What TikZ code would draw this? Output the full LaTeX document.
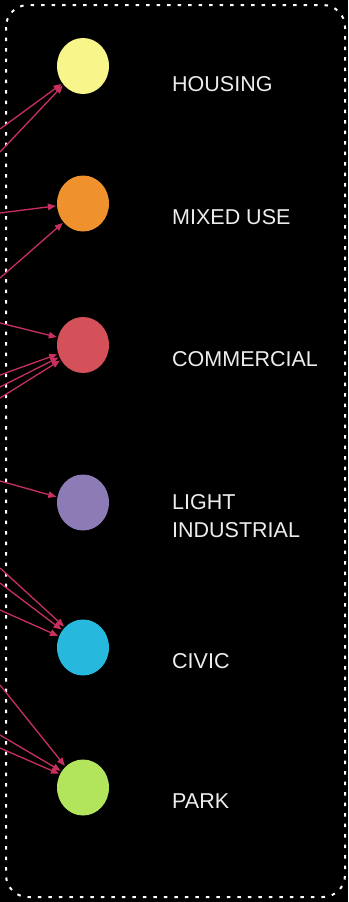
\documentclass[tikz,border=0pt]{standalone}
\usepackage{fontspec}
\setmainfont{Liberation Sans}
\usetikzlibrary{shapes.geometric,arrows.meta}
\definecolor{cyellow}{HTML}{F8F68A}
\definecolor{corange}{HTML}{EF922E}
\definecolor{cred}{HTML}{D4515A}
\definecolor{cpurple}{HTML}{8C7BB5}
\definecolor{ccyan}{HTML}{27B8DE}
\definecolor{cgreen}{HTML}{B2E45C}
\definecolor{arrowred}{HTML}{C8305E}
\definecolor{labelgray}{HTML}{EDEDED}
\tikzset{
  zone/.style={ellipse, minimum width=52pt, minimum height=56pt, inner sep=0pt, draw=none},
  zlabel/.style={anchor=base west, inner sep=0pt, text=labelgray, font=\fontsize{21.5}{28}\selectfont, align=left},
  flow/.style={draw=arrowred, line width=1.3pt, -{Triangle[length=8pt,width=6.5pt]}, shorten >=1pt},
  frame/.style={draw=white, line width=2pt, dash pattern=on 3.5pt off 7pt, rounded corners=22pt}
}
\begin{document}
\begin{tikzpicture}[x=1pt,y=-1pt]
\fill[black] (0,0) rectangle (348,902);
\useasboundingbox (0,0) rectangle (348,902);
\draw[frame] (6,5) rectangle (345,897);

\node[zone, fill=cyellow] (housing) at (83,66) {};
\node[zone, fill=corange] (mixed) at (83,203.5) {};
\node[zone, fill=cred] (commercial) at (83,345) {};
\node[zone, fill=cpurple] (industrial) at (83,502.5) {};
\node[zone, fill=ccyan] (civic) at (83,647.5) {};
\node[zone, fill=cgreen] (park) at (83,787.5) {};

\node[zlabel] (lhousing) at (172,91) {HOUSING};
\node[zlabel] (lmixed) at (172,224) {MIXED USE};
\node[zlabel] (lcommercial) at (172,366) {COMMERCIAL};
\node[zlabel] (llight) at (172,537) {LIGHT\\INDUSTRIAL};
\node[zlabel] (lcivic) at (172,668) {CIVIC};
\node[zlabel] (lpark) at (172,808) {PARK};

\coordinate (s1) at (0,129);
\coordinate (s2) at (0,152);
\coordinate (s3) at (0,213);
\coordinate (s4) at (0,278);
\coordinate (s5) at (0,323);
\coordinate (s6) at (0,375);
\coordinate (s7) at (0,387);
\coordinate (s8) at (0,398);
\coordinate (s9) at (0,481);
\coordinate (s10) at (0,568);
\coordinate (s11) at (0,583);
\coordinate (s12) at (0,610);
\coordinate (s13) at (0,685);
\coordinate (s14) at (0,735);
\coordinate (s15) at (0,748);

\draw[flow] (s1) -- (housing.220);
\draw[flow] (s2) -- (housing.224);
\draw[flow] (s3) -- (mixed.185);
\draw[flow] (s4) -- (mixed.224);
\draw[flow] (s5) -- (commercial.163);
\draw[flow] (s6) -- (commercial.200);
\draw[flow] (s7) -- (commercial.207);
\draw[flow] (s8) -- (commercial.214);
\draw[flow] (s9) -- (industrial.168);
\draw[flow] (s10) -- (civic.132);
\draw[flow] (s11) -- (civic.140);
\draw[flow] (s12) -- (civic.155);
\draw[flow] (s13) -- (park.130);
\draw[flow] (s14) -- (park.143);
\draw[flow] (s15) -- (park.150);
\end{tikzpicture}
\end{document}
